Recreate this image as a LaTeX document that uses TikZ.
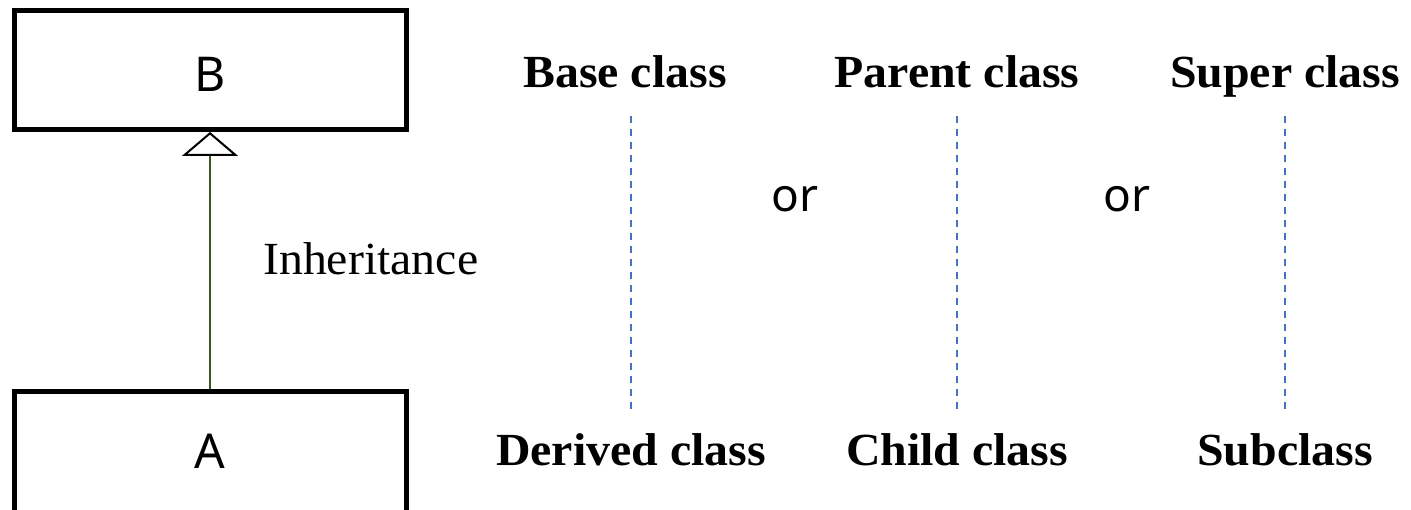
\documentclass[tikz,border=0pt]{standalone}
\usepackage{fontspec}
\setmainfont{Liberation Serif}
\newfontfamily\boxfont{Noto Sans}
\usetikzlibrary{arrows.meta}
\definecolor{linkgreen}{HTML}{385723}
\definecolor{guideblue}{HTML}{4472C4}
\begin{document}
\begin{tikzpicture}[x=1pt,y=-1pt,
  classbox/.style={draw=black, line width=5pt, minimum width=392pt,
    minimum height=119pt, inner sep=0pt},
  boxtext/.style={inner sep=0pt, font=\boxfont\fontsize{48}{56}\selectfont},
  term/.style={anchor=base, inner sep=0pt, xscale=1.04,
    font=\bfseries\fontsize{46}{54}\selectfont},
  plain/.style={inner sep=0pt, xscale=1.04,
    font=\fontsize{46}{54}\selectfont},
  alt/.style={anchor=base, inner sep=0pt,
    font=\boxfont\fontsize{46}{54}\selectfont},
  inherit/.style={draw=linkgreen, line width=1.5pt,
    -{Triangle[length=24pt, width=56pt, fill=white, color=black, line width=2pt]}},
  guide/.style={draw=guideblue, line width=1.4pt, dash pattern=on 7pt off 6pt,
    shorten <=24pt, shorten >=24pt}
]
\useasboundingbox (0,0) rectangle (1411,510);
\clip (0,0) rectangle (1411,510);

% class boxes (the lower one runs past the bottom edge)
\node[classbox] (B) at (210,70) {};
\node[boxtext] (Btext) at (210,74) {B};
\node[classbox, minimum height=140pt] (A) at (210,461.5) {};
\node[boxtext] (Atext) at (210,451) {A};
\draw[inherit] (A.north) -- (B.south);
\node[plain, anchor=base west] (inh) at (263,275) {Inheritance};

% synonymous terms
\node[term] (base)    at (625,88)  {Base class};
\node[term] (parent)  at (957,88)  {Parent class};
\node[term] (super)   at (1285,88) {Super class};
\node[term] (derived) at (631,465) {Derived class};
\node[term] (child)   at (957,465) {Child class};
\node[term] (sub)     at (1285,465) {Subclass};

\node[alt] (or1) at (795,212)  {or};
\node[alt] (or2) at (1127,212) {or};

% dashed guides joining each pair
\draw[guide] (derived.north) -- (derived.north |- base.base);
\draw[guide] (child.north) -- (child.north |- parent.base);
\draw[guide] (sub.north) -- (sub.north |- super.base);
\end{tikzpicture}
\end{document}
